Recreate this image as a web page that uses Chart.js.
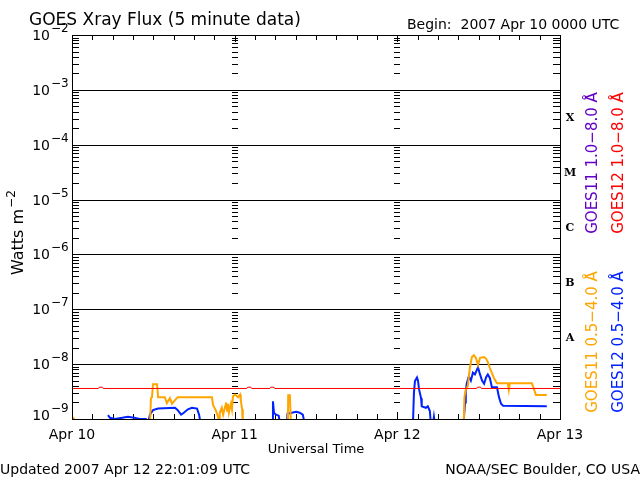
<!DOCTYPE html>
<html>
<head>
<meta charset="utf-8">
<script src="https://cdn.jsdelivr.net/npm/chart.js@4/dist/chart.umd.min.js"></script>
<style>
  html, body { margin: 0; padding: 0; background: #fff; }
  #output { display: block; }
</style>
</head>
<body>
<canvas id="output" width="640" height="480"></canvas>
<script>
// hours since 2007 Apr 10 00:00 UTC, null breaks the trace
const g11shortHours = [0, 0.3, 0.45, 5, 11.5, 11.65, 11.8, 11.95, 12.55, 12.7, 13.7, 14.0, 14.45, 14.75, 15.2, 15.6,
  20.65, 20.8, 21.2, 21.55, 21.7, 21.8, 22.1, 22.3, 22.6, 22.7, 22.9, 23.0, 23.15, 23.3, 23.45, 23.6, 23.75, 24.05,
  24.5, 24.8, 24.9, 25.1, 25.2, 28, 31.85, 31.9, 32.15, 32.3, 40, 57.8, 57.9, 58.1, 58.4, 58.7, 59.0, 59.3, 59.6,
  59.9, 60.2, 60.8, 61.1, 61.35, 61.65, 62.25, 62.7, 64.3, 64.45, 64.6, 67.85, 68.45, 70.05];
const g11shortFlux = [1.1e-9, 1.0e-9, 8e-10, null, 8e-10, 2.4e-9, 2.5e-9, 4.3e-9, 4.3e-9, 2.5e-9, 2.5e-9, 1.95e-9, 2.4e-9, 1.9e-9, 2.2e-9, 2.5e-9,
  2.5e-9, 1.8e-9, 1.45e-9, 1.1e-9, 8e-10, 1.3e-9, 1.6e-9, 1.2e-9, 1.7e-9, 2.0e-9, 1.4e-9, 1.9e-9, 1.3e-9, 1.6e-9, 1.9e-9, 1.5e-9, 2.6e-9, 2.8e-9,
  2.5e-9, 2.8e-9, 2.2e-9, 1.5e-9, 8e-10, null, 8e-10, 2.7e-9, 2.7e-9, 8e-10, null, 8e-10, 2.5e-9, 3.4e-9, 4.0e-9, 8.5e-9, 1.35e-8, 1.45e-8, 1.3e-8,
  9.6e-9, 1.3e-8, 1.35e-8, 1.25e-8, 1.1e-8, 8.5e-9, 5.6e-9, 4.5e-9, 4.5e-9, 3.4e-9, 4.5e-9, 4.5e-9, 2.75e-9, 2.75e-9];

const g12shortHours = [5.3, 5.6, 6.35, 7.4, 8.25, 9.15, 10.0, 10.9, 11.2, 11.5, 11.95, 12.7, 15.2, 15.6, 16.1, 16.5, 17.1, 17.7,
  18.45, 18.75, 19.0, 24, 29.6, 29.65, 29.8, 30.1, 30.5, 30.7, 31.2, 31.7, 31.8, 32.45, 33.05, 33.6, 34.05, 34.35, 40,
  50.3, 50.45, 50.6, 50.9, 51.05, 51.2, 51.5, 51.6, 52.2, 52.5, 52.8, 52.95, 53.1, 53.25, 53.4, 53.55, 55,
  57.75, 58.0, 58.1, 58.25, 58.55, 58.85, 59.15, 59.45, 59.9, 60.2, 60.5, 60.8, 61.1, 61.35, 61.65, 61.95, 62.7, 63.0, 63.3, 63.6, 70.05];
const g12shortFlux = [1.18e-9, 1.05e-9, 1.0e-9, 1.05e-9, 1.1e-9, 1.05e-9, 1.0e-9, 1.0e-9, 8e-10, 1.2e-9, 1.45e-9, 1.55e-9, 1.6e-9, 1.45e-9, 1.2e-9, 1.3e-9, 1.5e-9, 1.6e-9,
  1.55e-9, 1.2e-9, 8e-10, null, 8e-10, 2.1e-9, 1.3e-9, 1.2e-9, 1.15e-9, 8e-10, null, 8e-10, 1.25e-9, 1.3e-9, 1.35e-9, 1.3e-9, 1.2e-9, 8e-10, null,
  8e-10, 3.0e-9, 4.9e-9, 5.7e-9, 5.0e-9, 3.5e-9, 2.4e-9, 1.7e-9, 1.6e-9, 1.7e-9, 1.4e-9, 8e-10, null, 8e-10, 1.1e-9, 8e-10, null,
  8e-10, 2.0e-9, 3.2e-9, 4.5e-9, 6.0e-9, 5.0e-9, 7.0e-9, 6.5e-9, 8.8e-9, 6.5e-9, 5.0e-9, 4.4e-9, 5.8e-9, 6.5e-9, 5.6e-9, 3.8e-9, 3.8e-9, 2.5e-9, 1.9e-9, 1.75e-9, 1.7e-9];

const g12longHours = [0, 3.9, 4.0, 4.5, 4.6, 25.8, 25.9, 26.4, 26.5, 29.2, 29.3, 29.8, 29.9, 59.7, 59.8, 60.3, 60.4, 72];
const g12longFlux = [3.6e-9, 3.6e-9, 3.8e-9, 3.8e-9, 3.6e-9, 3.6e-9, 3.8e-9, 3.8e-9, 3.6e-9, 3.6e-9, 3.8e-9, 3.8e-9, 3.6e-9, 3.6e-9, 3.8e-9, 3.8e-9, 3.6e-9, 3.6e-9];

const dayLabels = ["Apr 10", "Apr 11", "Apr 12", "Apr 13"];
const decades = [-9, -8, -7, -6, -5, -4, -3, -2];
const flareClasses = ["A", "B", "C", "M", "X"]; // 1e-8 .. 1e-4 bands

const toPoints = (hours, flux) => hours.map((h, i) => ({ x: h, y: flux[i] }));

const FONT = "'DejaVu Sans', sans-serif";

// draws the GOES-style frame, ticks and all the text around the plot
const goesFrame = {
  id: "goesFrame",
  beforeDatasetsDraw(chart) {
    const { ctx, chartArea: a } = chart;
    const ys = chart.scales.y, xs = chart.scales.x;
    ctx.save();
    ctx.strokeStyle = "#000";
    ctx.lineWidth = 1;
    ctx.beginPath();
    // decade grid lines
    decades.forEach((d) => {
      const y = Math.round(ys.getPixelForValue(Math.pow(10, d))) + 0.5;
      ctx.moveTo(a.left, y); ctx.lineTo(a.right, y);
    });
    // minor log ticks on left, right and at the day boundaries
    decades.slice(0, -1).forEach((d) => {
      for (let m = 2; m <= 9; m++) {
        const y = Math.round(ys.getPixelForValue(m * Math.pow(10, d))) + 0.5;
        ctx.moveTo(a.left, y); ctx.lineTo(a.left + 7, y);
        ctx.moveTo(a.right - 7, y); ctx.lineTo(a.right, y);
        [24, 48].forEach((h) => {
          const x = Math.round(xs.getPixelForValue(h));
          ctx.moveTo(x - 3, y); ctx.lineTo(x + 3, y);
        });
      }
    });
    // 3-hour ticks on top and bottom
    for (let h = 3; h < 72; h += 3) {
      const x = Math.round(xs.getPixelForValue(h)) + 0.5;
      const len = h % 24 === 0 ? 7 : 5;
      ctx.moveTo(x, a.top); ctx.lineTo(x, a.top + len);
      ctx.moveTo(x, a.bottom); ctx.lineTo(x, a.bottom - len);
    }
    ctx.stroke();
    ctx.restore();
  },
  afterDraw(chart) {
    const { ctx, chartArea: a } = chart;
    const ys = chart.scales.y, xs = chart.scales.x;
    ctx.save();
    ctx.strokeStyle = "#000";
    ctx.lineWidth = 1;
    ctx.strokeRect(Math.round(a.left) + 0.5, Math.round(a.top) + 0.5,
      Math.round(a.right - a.left), Math.round(a.bottom - a.top));

    ctx.fillStyle = "#000";
    // titles
    ctx.textAlign = "left";
    ctx.font = "17px " + FONT;
    ctx.fillText("GOES Xray Flux (5 minute data)", 29, 25);
    ctx.font = "14px " + FONT;
    ctx.fillText("Begin:  2007 Apr 10 0000 UTC", 407, 29);
    ctx.fillText("Updated 2007 Apr 12 22:01:09 UTC", 0, 474);
    ctx.textAlign = "right";
    ctx.fillText("NOAA/SEC Boulder, CO USA", 640, 474);

    // y tick labels 10^n
    decades.forEach((d) => {
      const y = ys.getPixelForValue(Math.pow(10, d));
      const base = Math.min(y + 5, a.bottom + 1);
      ctx.textAlign = "right";
      ctx.font = "14px " + FONT;
      ctx.fillText("10", 50, base);
      ctx.textAlign = "left";
      ctx.font = "12px " + FONT;
      ctx.fillText("\u2212" + Math.abs(d), 51, base - 8);
    });

    // x tick labels
    ctx.textAlign = "center";
    ctx.font = "14px " + FONT;
    dayLabels.forEach((lab, i) => {
      ctx.fillText(lab, xs.getPixelForValue(i * 24), 439);
    });
    ctx.font = "13px " + FONT;
    ctx.fillText("Universal Time", 316, 453);

    // y axis title
    ctx.save();
    ctx.translate(23, 236);
    ctx.rotate(-Math.PI / 2);
    ctx.textAlign = "center";
    ctx.font = "16px " + FONT;
    ctx.fillText("Watts m", -6, 0);
    const w = ctx.measureText("Watts m").width;
    ctx.textAlign = "left";
    ctx.font = "12px " + FONT;
    ctx.fillText("\u22122", -6 + w / 2 + 1, -8);
    ctx.restore();

    // flare class letters between decades
    ctx.textAlign = "center";
    ctx.font = "bold 11px 'DejaVu Serif', serif";
    flareClasses.forEach((c, i) => {
      const y = ys.getPixelForValue(Math.pow(10, -7.5 + i));
      ctx.fillText(c, 570, y + 4);
    });

    // rotated legends
    const legend = [
      ["GOES11 1.0\u22128.0 \u00c5", "#6400c8", 597, 163],
      ["GOES12 1.0\u22128.0 \u00c5", "#ff0000", 623, 163],
      ["GOES11 0.5\u22124.0 \u00c5", "#ffa500", 597, 342],
      ["GOES12 0.5\u22124.0 \u00c5", "#0022ff", 623, 342],
    ];
    ctx.font = "15px " + FONT;
    legend.forEach(([t, col, x, y]) => {
      ctx.save();
      ctx.translate(x, y);
      ctx.rotate(-Math.PI / 2);
      ctx.textAlign = "center";
      ctx.fillStyle = col;
      ctx.fillText(t, 0, 0);
      ctx.restore();
    });
    ctx.restore();
  },
};

new Chart(document.getElementById("output"), {
  type: "line",
  data: {
    datasets: [
      { label: "GOES12 1.0-8.0 A", data: toPoints(g12longHours, g12longFlux), borderColor: "#ff0000", borderWidth: 1 },
      { label: "GOES11 0.5-4.0 A", data: toPoints(g11shortHours, g11shortFlux), borderColor: "#ffa500", borderWidth: 2 },
      { label: "GOES12 0.5-4.0 A", data: toPoints(g12shortHours, g12shortFlux), borderColor: "#0022ff", borderWidth: 2 },
    ],
  },
  options: {
    responsive: false,
    animation: false,
    devicePixelRatio: 1,
    spanGaps: false,
    layout: { padding: { left: 72, right: 80, top: 35, bottom: 61 } },
    elements: { point: { radius: 0 }, line: { tension: 0 } },
    datasets: { line: { clip: 0 } },
    scales: {
      x: { type: "linear", min: 0, max: 72, display: false },
      y: { type: "logarithmic", min: 1e-9, max: 1e-2, display: false },
    },
    plugins: { legend: { display: false }, tooltip: { enabled: false } },
  },
  plugins: [goesFrame],
});
</script>
</body>
</html>
